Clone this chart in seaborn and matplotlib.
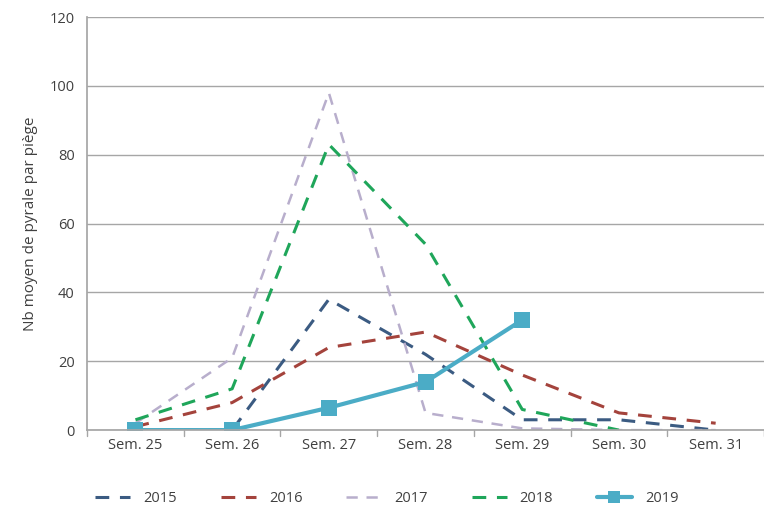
import numpy as np
import pandas as pd
import matplotlib
matplotlib.use("Agg")
import matplotlib.pyplot as plt
import seaborn as sns

sns.set_theme(style="white")
plt.rcParams['font.family'] = ['Open Sans', 'DejaVu Sans']

# data
weeks = ['Sem. 25', 'Sem. 26', 'Sem. 27', 'Sem. 28', 'Sem. 29', 'Sem. 30', 'Sem. 31']
y2015 = [0, 0, 38, 22, 3, 3, 0]
y2016 = [1, 8, 24, 28.5, 16, 5, 2]
y2017 = [2, 21, 98, 5, 0.5, 0, 0]
y2018 = [3, 12, 83, 54, 6, 0, np.nan]
y2019 = [0, 0, 6.5, 14, 32, np.nan, np.nan]

years = ['2015', '2016', '2017', '2018', '2019']
series = [y2015, y2016, y2017, y2018, y2019]
colors = ['#3B5B82', '#A4433C', '#B8AECC', '#1FA65A', '#4BACC6']

fig = plt.figure(figsize=(7.64, 5.09), dpi=100)
ax = fig.add_axes([0.114, 0.155, 0.886, 0.8114])

x = np.arange(len(weeks))
for yr, vals, col in zip(years, series, colors):
    df = pd.DataFrame({'x': x, 'y': vals}).dropna()
    if yr == '2019':
        sns.lineplot(data=df, x='x', y='y', ax=ax, color=col, lw=3,
                     marker='s', markersize=11, markeredgewidth=0, label=yr)
    else:
        lw = 1.8 if yr == '2017' else 2.2
        sns.lineplot(data=df, x='x', y='y', ax=ax, color=col, lw=lw, label=yr)
        ax.lines[-1].set_dashes((4.5, 3.5))

ax.set_xlim(-0.5, 6.5)
ax.set_ylim(0, 120)
ax.set_yticks(range(0, 121, 20))
ax.set_xticks(x)
ax.set_xticklabels(weeks)
ax.set_xlabel('')
ax.set_ylabel('Nb moyen de pyrale par piège', fontsize=11, color='#404040', labelpad=8)
ax.yaxis.grid(True, color='#A6A6A6', lw=1)
ax.set_axisbelow(True)
ax.tick_params(axis='both', labelsize=10.5, colors='#404040', length=0)
ax.tick_params(axis='y', length=5, color='#A6A6A6', pad=4)
ax.tick_params(axis='x', pad=6)

# category boundary ticks like Excel
for b in np.arange(-0.5, 7, 1):
    ax.plot([b, b], [0, -1.6], color='#A6A6A6', lw=1, clip_on=False)

for side in ['top', 'right']:
    ax.spines[side].set_visible(False)
ax.spines['left'].set_color('#A6A6A6')
ax.spines['bottom'].set_color('#A6A6A6')

leg = ax.legend(loc='upper center', bbox_to_anchor=(0.443, -0.115), ncol=5,
                frameon=False, fontsize=10.5, handlelength=2.4, handletextpad=0.9,
                columnspacing=3.0, markerscale=0.8)
for t in leg.get_texts():
    t.set_color('#404040')

fig.savefig('out.png', dpi=100)
